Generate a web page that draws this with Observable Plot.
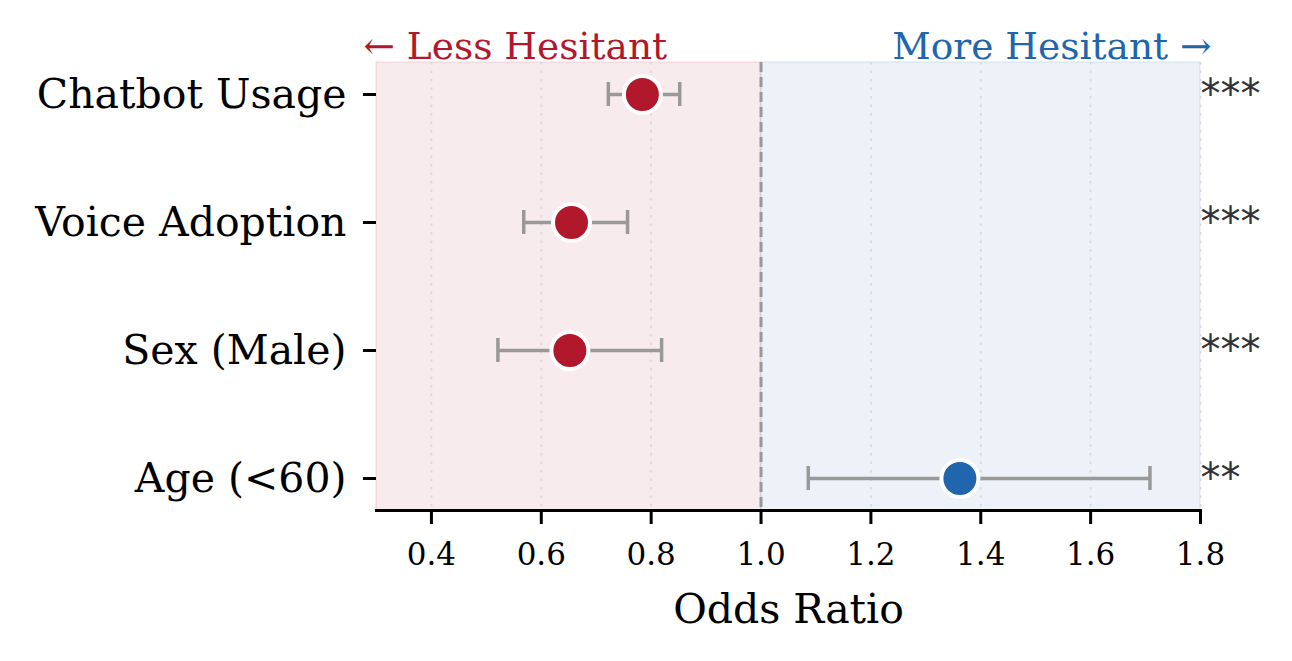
<!DOCTYPE html>
<html>
<head>
<meta charset="utf-8">
<script src="https://cdn.jsdelivr.net/npm/d3@7"></script>
<script src="https://cdn.jsdelivr.net/npm/@observablehq/plot@0.6"></script>
<style>
  html, body { margin: 0; padding: 0; background: #fff; }
  #chart svg { display: block; }
</style>
</head>
<body>
<div id="chart"></div>
<script>
const categories = ["Chatbot Usage", "Voice Adoption", "Sex (Male)", "Age (<60)"];
const oddsRatio = [0.784, 0.655, 0.652, 1.362];
const ciLow = [0.722, 0.568, 0.521, 1.086];
const ciHigh = [0.852, 0.757, 0.819, 1.708];
const stars = ["***", "***", "***", "**"];
const xTicks = [0.4, 0.6, 0.8, 1.0, 1.2, 1.4, 1.6, 1.8];
const regions = [
  {x1: 0.3, x2: 1.0, fill: "#b2182b"},
  {x1: 1.0, x2: 1.8, fill: "#2166ac"}
];

const RED = "#b2182b", BLUE = "#2166ac";
const data = categories.map((c, i) => ({
  cat: c, or: oddsRatio[i], lo: ciLow[i], hi: ciHigh[i], sig: stars[i],
  color: oddsRatio[i] < 1 ? RED : BLUE
}));

const serif = "DejaVu Serif";
const chart = Plot.plot({
  width: 1292,
  height: 661,
  marginLeft: 376,
  marginRight: 92,
  marginTop: 62,
  marginBottom: 151,
  style: {fontFamily: serif, background: "#fff"},
  x: {domain: [0.3, 1.8]},
  y: {domain: categories, paddingInner: 0.5, paddingOuter: 0},
  marks: [
    Plot.rect(regions, {x1: "x1", x2: "x2", fill: "fill", fillOpacity: 0.085, stroke: "fill", strokeOpacity: 0.1, strokeWidth: 1.5}),
    Plot.ruleX(xTicks, {stroke: "#d9d9d9", strokeWidth: 1.8, strokeDasharray: "2.5,6"}),
    Plot.ruleX([1], {stroke: "#999", strokeWidth: 3, strokeDasharray: "10,5"}),
    Plot.ruleY(data, {y: "cat", x1: "lo", x2: "hi", stroke: "#999", strokeWidth: 3.5}),
    Plot.tickX(data, {x: "lo", y: "cat", stroke: "#999", strokeWidth: 3.5, insetTop: 20, insetBottom: 20}),
    Plot.tickX(data, {x: "hi", y: "cat", stroke: "#999", strokeWidth: 3.5, insetTop: 20, insetBottom: 20}),
    Plot.dot(data, {x: "or", y: "cat", r: 18.5, fill: "color", stroke: "#fff", strokeWidth: 4}),
    Plot.text(data, {y: "cat", text: "sig", frameAnchor: "right", textAnchor: "start", dx: 0, dy: 1,
      fontSize: 40, fill: "#333", fontFamily: "DejaVu Sans"}),
    Plot.axisY({tickSize: 13, tickPadding: 17, fontSize: 41, strokeWidth: 3, label: null, fill: "#000"}),
    Plot.axisX({ticks: xTicks, tickFormat: d3.format(".1f"), tickSize: 14, tickPadding: 18, fontSize: 31, strokeWidth: 3,
      label: "Odds Ratio", labelAnchor: "center", labelArrow: "none", labelOffset: 112}),
    Plot.frame({anchor: "bottom", stroke: "#000", strokeWidth: 3}),
    Plot.text(["← Less Hesitant"], {frameAnchor: "top-left", textAnchor: "start", lineAnchor: "bottom", dx: -13, dy: -4,
      fontSize: 37.5, fill: RED}),
    Plot.text(["More Hesitant →"], {frameAnchor: "top-right", textAnchor: "end", lineAnchor: "bottom", dx: 11, dy: -4,
      fontSize: 37.5, fill: BLUE})
  ]
});
chart.querySelectorAll("[aria-label='x-axis label'] text").forEach(t => t.setAttribute("font-size", 41));
document.getElementById("chart").append(chart);
</script>
</body>
</html>
